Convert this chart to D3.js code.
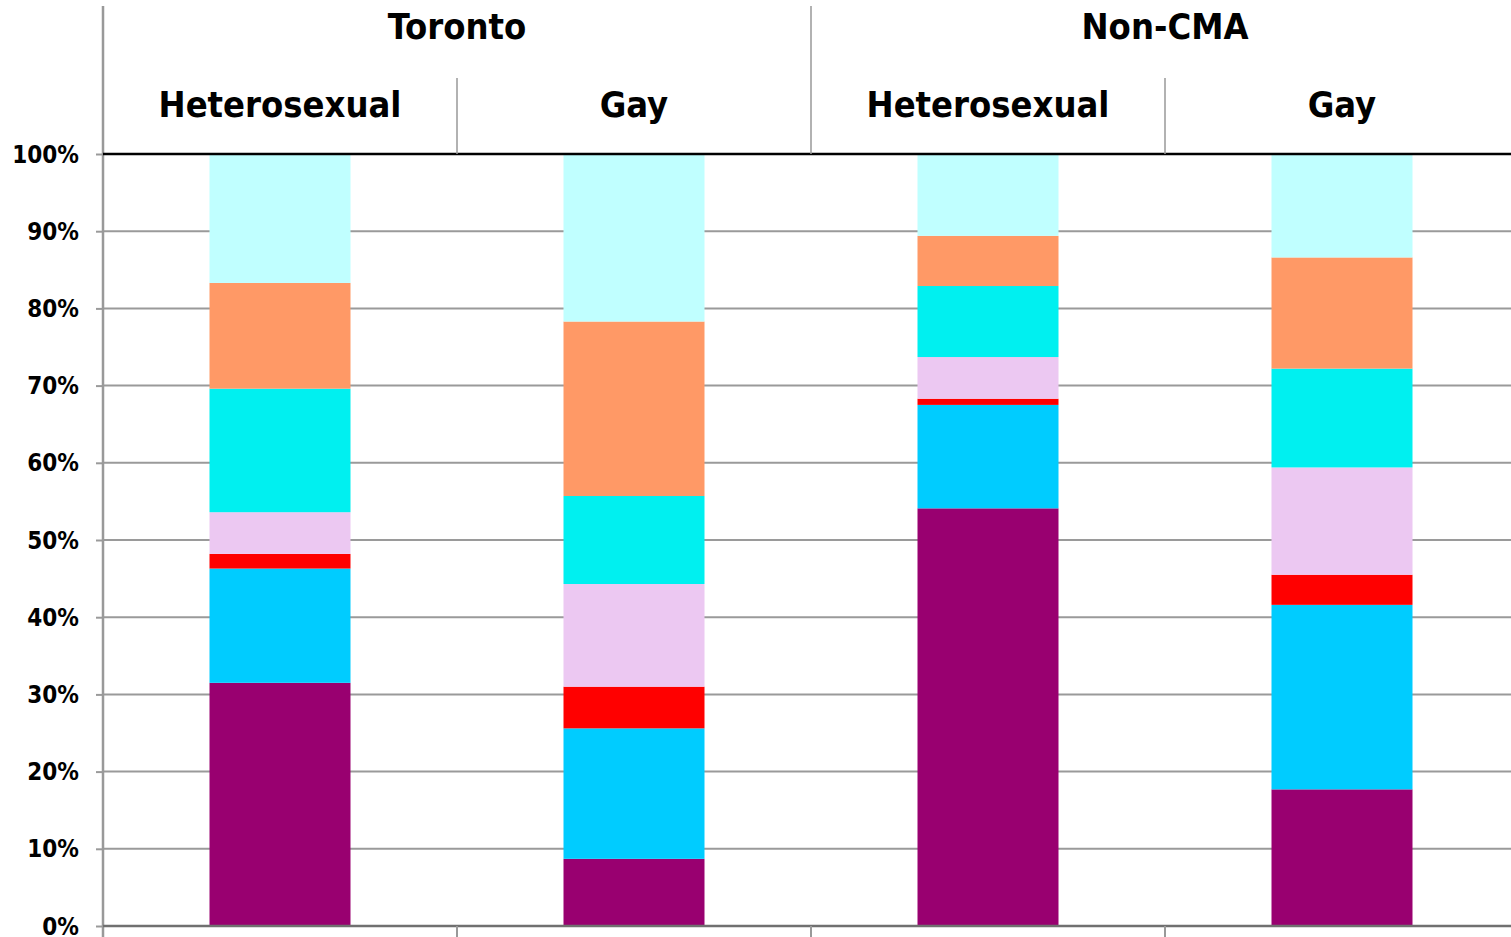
<!DOCTYPE html>
<html>
<head>
<meta charset="utf-8">
<script src="https://cdn.jsdelivr.net/npm/d3@7/dist/d3.min.js"></script>
<style>
  html, body { margin: 0; padding: 0; background: #fff; }
  svg { display: block; }
  .hdr { font-family: "Liberation Sans Narrow", "DejaVu Sans Condensed", "Roboto", sans-serif; font-weight: bold; fill: #000; }
  .tick text { font-family: "Liberation Sans Narrow", "DejaVu Sans Condensed", "Roboto", sans-serif; font-weight: bold; fill: #000; }
</style>
</head>
<body>
<svg id="chart" width="1511" height="937"></svg>
<script>
// Region groups and orientation categories (two-level x axis)
const regions = ["Toronto", "Non-CMA"];
const orientations = ["Heterosexual", "Gay"];
const categories = ["Toronto|Heterosexual", "Toronto|Gay", "Non-CMA|Heterosexual", "Non-CMA|Gay"];

// Stacked segment shares (%) per category, bottom to top
const seriesNames = ["s1", "s2", "s3", "s4", "s5", "s6", "s7"];
const s1 = [31.5, 8.7, 54.1, 17.7];
const s2 = [14.8, 16.9, 13.4, 23.9];
const s3 = [1.9, 5.4, 0.8, 3.9];
const s4 = [5.4, 13.3, 5.4, 13.9];
const s5 = [16.0, 11.4, 9.2, 12.8];
const s6 = [13.7, 22.6, 6.5, 14.4];
const s7 = [16.7, 21.7, 10.6, 13.4];
const seriesColors = ["#990070", "#00CCFF", "#FF0000", "#ECC8F2", "#00F0F0", "#FF9966", "#C0FFFF"];

const yTicks = [0, 10, 20, 30, 40, 50, 60, 70, 80, 90, 100];

const seriesValues = [s1, s2, s3, s4, s5, s6, s7];
const rows = categories.map((c, i) => {
  const r = { cat: c };
  seriesNames.forEach((s, k) => { r[s] = seriesValues[k][i]; });
  return r;
});

const svg = d3.select("#chart");
const plotLeft = 103, plotTop = 154, plotBottom = 926, plotRight = 1519;

const x = d3.scaleBand().domain(categories).range([plotLeft, plotRight]).paddingInner(0).paddingOuter(0);
const y = d3.scaleLinear().domain([0, 100]).range([plotBottom, plotTop]);
const barW = 141;

// horizontal gridlines
svg.append("g").selectAll("line").data(yTicks.filter(t => t > 0 && t < 100)).join("line")
  .attr("x1", plotLeft).attr("x2", 1511)
  .attr("y1", d => y(d)).attr("y2", d => y(d))
  .attr("stroke", "#9a9a9a").attr("stroke-width", 2);

// stacked bars
const stacked = d3.stack().keys(seriesNames)(rows);
svg.append("g").selectAll("g").data(stacked).join("g")
  .attr("fill", (d, i) => seriesColors[i])
  .selectAll("rect").data(d => d).join("rect")
  .attr("x", d => x(d.data.cat) + (x.bandwidth() - barW) / 2)
  .attr("width", barW)
  .attr("y", d => y(d[1]))
  .attr("height", d => y(d[0]) - y(d[1]));

// y axis
const yAxis = d3.axisLeft(y).tickValues(yTicks).tickFormat(d => d + "%").tickSize(7).tickPadding(17);
const ya = svg.append("g").attr("transform", `translate(${plotLeft},0)`).call(yAxis);
ya.select(".domain").remove();
ya.selectAll(".tick line").attr("stroke", "#9a9a9a").attr("stroke-width", 2);
ya.selectAll(".tick text").attr("font-size", 24).attr("dy", "0.34em");

// y axis line
svg.append("line").attr("x1", plotLeft).attr("x2", plotLeft).attr("y1", 6).attr("y2", 937)
  .attr("stroke", "#999").attr("stroke-width", 2.5);

// bottom axis line and group tick marks
svg.append("line").attr("x1", plotLeft).attr("x2", 1511).attr("y1", plotBottom).attr("y2", plotBottom)
  .attr("stroke", "#707070").attr("stroke-width", 2.5);
svg.append("g").selectAll("line").data(categories.slice(1)).join("line")
  .attr("x1", d => x(d)).attr("x2", d => x(d))
  .attr("y1", plotBottom).attr("y2", 937)
  .attr("stroke", "#999").attr("stroke-width", 2);

// top line at 100%
svg.append("line").attr("x1", plotLeft).attr("x2", 1511).attr("y1", plotTop).attr("y2", plotTop)
  .attr("stroke", "#000").attr("stroke-width", 2.5);

// header dividers
categories.forEach((c, i) => {
  if (i === 0) return;
  const isGroupEdge = c.endsWith("|Heterosexual");
  svg.append("line").attr("x1", x(c)).attr("x2", x(c))
    .attr("y1", isGroupEdge ? 6 : 78).attr("y2", plotTop)
    .attr("stroke", "#999").attr("stroke-width", 1.5);
});

// orientation labels
svg.append("g").selectAll("text").data(categories).join("text")
  .attr("class", "hdr")
  .attr("x", d => x(d) + x.bandwidth() / 2)
  .attr("y", 117)
  .attr("text-anchor", "middle")
  .attr("font-size", 36)
  .text(d => d.split("|")[1]);

// region labels
svg.append("g").selectAll("text").data(regions).join("text")
  .attr("class", "hdr")
  .attr("x", r => {
    const cs = categories.filter(c => c.startsWith(r + "|"));
    return (x(cs[0]) + x(cs[cs.length - 1]) + x.bandwidth()) / 2;
  })
  .attr("y", 39)
  .attr("text-anchor", "middle")
  .attr("font-size", 36)
  .text(r => r);
</script>
</body>
</html>
